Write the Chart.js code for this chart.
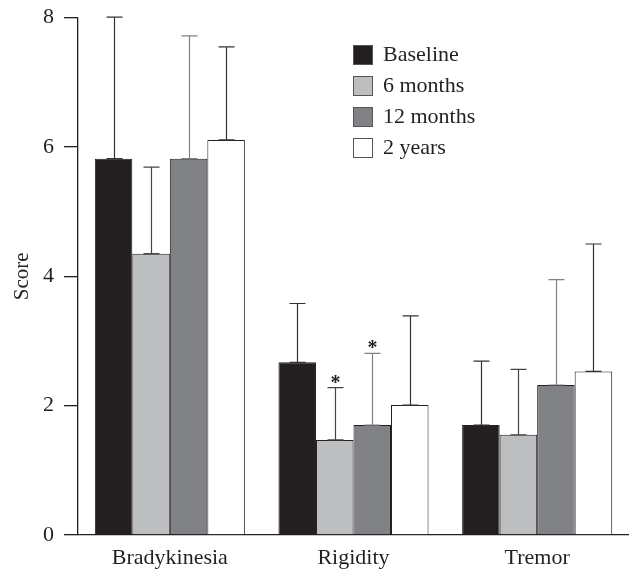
<!DOCTYPE html>
<html>
<head>
<meta charset="utf-8">
<script src="https://cdn.jsdelivr.net/npm/chart.js@4.4.0/dist/chart.umd.min.js"></script>
<style>
  html, body { margin: 0; padding: 0; background: #fff; }
  #wrap { width: 629px; height: 571px; }
</style>
</head>
<body>
<div id="wrap"><canvas id="scoreChart"></canvas></div>
<script>
var categories = ['Bradykinesia', 'Rigidity', 'Tremor'];
var seriesNames = ['Baseline', '6 months', '12 months', '2 years'];
var baseline = [5.82, 2.67, 1.70];
var sixMonths = [4.35, 1.47, 1.55];
var twelveMonths = [5.82, 1.70, 2.32];
var twoYears = [6.11, 2.01, 2.53];
// upper end of each error bar
var baselineErr = [8.01, 3.58, 2.69];
var sixMonthsErr = [5.69, 2.28, 2.56];
var twelveMonthsErr = [7.72, 2.81, 3.95];
var twoYearsErr = [7.55, 3.39, 4.50];
// significance markers (*)
var sixMonthsSig = [false, true, false];
var twelveMonthsSig = [false, true, false];
var yTicks = [0, 2, 4, 6, 8];

var serif = "'Liberation Serif', 'DejaVu Serif', serif";
var fillColors = ['#231f20', '#bcbec0', '#808285', '#ffffff'];
var errColors = ['#333333', '#444444', '#808080', '#333333'];

function makeSet(i, values, err, sig) {
  return {
    label: seriesNames[i],
    data: values,
    errTop: err,
    sig: sig || [false, false, false],
    errColor: errColors[i],
    backgroundColor: fillColors[i],
    borderColor: '#231f20',
    borderWidth: 1,
    categoryPercentage: 0.817,
    barPercentage: 1.0
  };
}

var errorBars = {
  id: 'errorBars',
  afterDatasetsDraw: function (chart) {
    var ctx = chart.ctx;
    var y = chart.scales.y;
    ctx.save();
    chart.data.datasets.forEach(function (ds, di) {
      var meta = chart.getDatasetMeta(di);
      meta.data.forEach(function (bar, i) {
        var top = y.getPixelForValue(ds.errTop[i]);
        var x = Math.round(bar.x) + 0.5;
        ctx.strokeStyle = ds.errColor;
        ctx.lineWidth = 1.2;
        ctx.beginPath();
        ctx.moveTo(x, bar.y);
        ctx.lineTo(x, top);
        ctx.moveTo(x - 8, top);
        ctx.lineTo(x + 8, top);
        ctx.moveTo(x - 8, bar.y);
        ctx.lineTo(x + 8, bar.y);
        ctx.stroke();
        if (ds.sig[i]) {
          ctx.fillStyle = '#231f20';
          ctx.font = 'bold 20px ' + serif;
          ctx.textAlign = 'center';
          ctx.textBaseline = 'alphabetic';
          ctx.fillText('*', x, top + 1);
        }
      });
    });
    ctx.restore();
  }
};

var insideLegend = {
  id: 'insideLegend',
  afterDraw: function (chart) {
    var ctx = chart.ctx;
    ctx.save();
    ctx.font = '22px ' + serif;
    ctx.textBaseline = 'middle';
    ctx.textAlign = 'left';
    chart.data.datasets.forEach(function (ds, i) {
      var top = 45 + i * 31;
      ctx.fillStyle = ds.backgroundColor;
      ctx.fillRect(353, top, 20, 20);
      ctx.strokeStyle = '#555';
      ctx.lineWidth = 1;
      ctx.strokeRect(353.5, top + 0.5, 19, 19);
      ctx.fillStyle = '#231f20';
      ctx.fillText(ds.label, 383, top + 10);
    });
    ctx.restore();
  }
};

var ctx = document.getElementById('scoreChart');
var scoreChart = new Chart(ctx, {
  type: 'bar',
  data: {
    labels: categories,
    datasets: [
      makeSet(0, baseline, baselineErr),
      makeSet(1, sixMonths, sixMonthsErr, sixMonthsSig),
      makeSet(2, twelveMonths, twelveMonthsErr, twelveMonthsSig),
      makeSet(3, twoYears, twoYearsErr)
    ]
  },
  options: {
    responsive: true,
    maintainAspectRatio: false,
    animation: false,
    layout: { padding: 0 },
    plugins: {
      legend: { display: false },
      tooltip: { enabled: false }
    },
    scales: {
      x: {
        grid: { display: false },
        border: { display: true, color: '#231f20', width: 1.3 },
        ticks: { color: '#231f20', font: { family: serif, size: 22 }, padding: 2 },
        afterFit: function (scale) { scale.height = 36; }
      },
      y: {
        min: 0,
        max: 8,
        afterBuildTicks: function (scale) {
          scale.ticks = yTicks.map(function (v) { return { value: v }; });
        },
        grid: { drawOnChartArea: false, tickLength: 14, color: '#231f20', lineWidth: 1.3 },
        border: { display: true, color: '#231f20', width: 1.3 },
        ticks: { color: '#231f20', font: { family: serif, size: 22, lineHeight: 0.7 }, padding: 10 },
        title: { display: true, text: 'Score', color: '#231f20', font: { family: serif, size: 21 }, padding: { top: 10, bottom: 0 } },
        afterFit: function (scale) { scale.width = 78; }
      }
    }
  },
  plugins: [errorBars, insideLegend]
});
</script>
</body>
</html>
